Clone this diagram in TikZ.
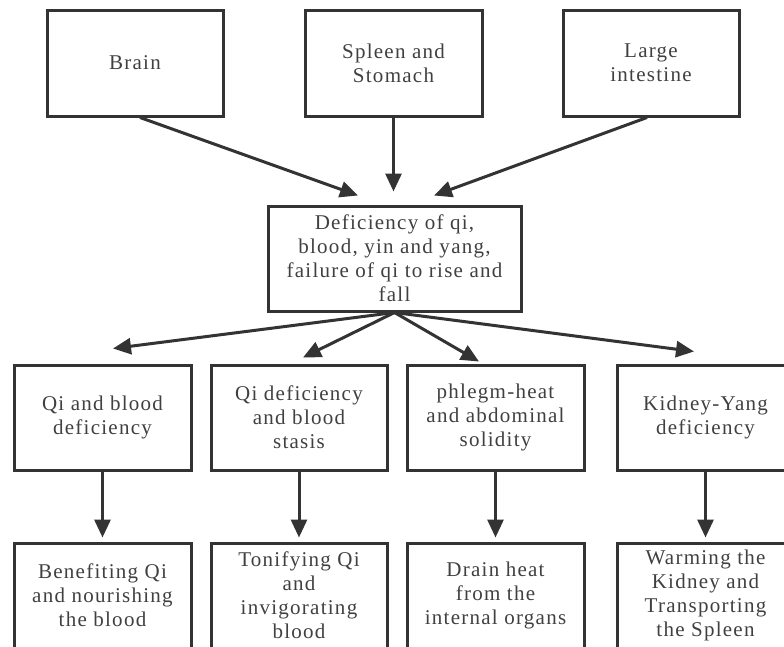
\documentclass[tikz,border=0pt]{standalone}
\usepackage{fontspec}
\setmainfont[LetterSpace=6]{Liberation Serif}
\usetikzlibrary{arrows.meta}
\definecolor{ink}{HTML}{333333}
\definecolor{txt}{HTML}{404040}
\begin{document}
\begin{tikzpicture}[x=1pt,y=-1pt,
  box/.style={draw=ink,line width=3pt,align=center,text=txt,
    font=\fontsize{21}{24}\selectfont,inner sep=0pt},
  top/.style={box,minimum width=176pt,minimum height=106pt},
  row/.style={box,minimum width=177pt,minimum height=105pt},
  arr/.style={draw=ink,line width=3pt,-{Triangle[length=18pt,width=16pt]}}]
\useasboundingbox (0,0) rectangle (784,646);
\clip (0,0) rectangle (784,646);
\node[top] (brain) at (135,63) {Brain};
\node[top,minimum width=177pt] (spleen) at (393.5,63) {Spleen and\\Stomach};
\node[top] (large) at (651,63) {Large\\intestine};
\node[box,minimum width=253pt,minimum height=105pt] (mid) at (394.5,258.5)
  {Deficiency of qi,\\blood, yin and yang,\\failure of qi to rise and\\fall};
\node[row] (qb) at (102.5,417.5) {Qi and blood\\deficiency};
\node[row,minimum width=176pt] (qd) at (299,417.5) {Qi deficiency\\and blood\\stasis};
\node[row] (ph) at (495.5,417.5) {phlegm-heat\\and abdominal\\solidity};
\node[row] (kd) at (705.5,417.5) {Kidney-Yang\\deficiency};
\node[row] (qbb) at (102.5,595.5) {Benefiting Qi\\and nourishing\\the blood};
\node[row,minimum width=176pt] (qdb) at (299,595.5) {Tonifying Qi\\and\\invigorating\\blood};
\node[row] (phb) at (495.5,595.5) {Drain heat\\from the\\internal organs};
\node[row] (kdb) at (705.5,595.5) {Warming the\\Kidney and\\Transporting\\the Spleen};
\draw[arr] ([xshift=5pt]brain.south) -- ([xshift=-36.5pt,yshift=9pt]mid.north);
\draw[arr] (spleen.south) -- ([xshift=-1pt,yshift=13pt]mid.north);
\draw[arr] ([xshift=-4pt]large.south) -- ([xshift=39.5pt,yshift=9pt]mid.north);
\draw[arr] (mid.south) -- ([xshift=10.5pt,yshift=15pt]qb.north);
\draw[arr] (mid.south) -- ([xshift=4pt,yshift=6pt]qd.north);
\draw[arr] (mid.south) -- ([xshift=-16.5pt,yshift=2pt]ph.north);
\draw[arr] (mid.south) -- ([xshift=-11.5pt,yshift=12pt]kd.north);
\draw[arr,shorten >=4pt] (qb.south) -- (qbb.north);
\draw[arr,shorten >=4pt] (qd.south) -- (qdb.north);
\draw[arr,shorten >=4pt] (ph.south) -- (phb.north);
\draw[arr,shorten >=4pt] (kd.south) -- (kdb.north);
\end{tikzpicture}
\end{document}
